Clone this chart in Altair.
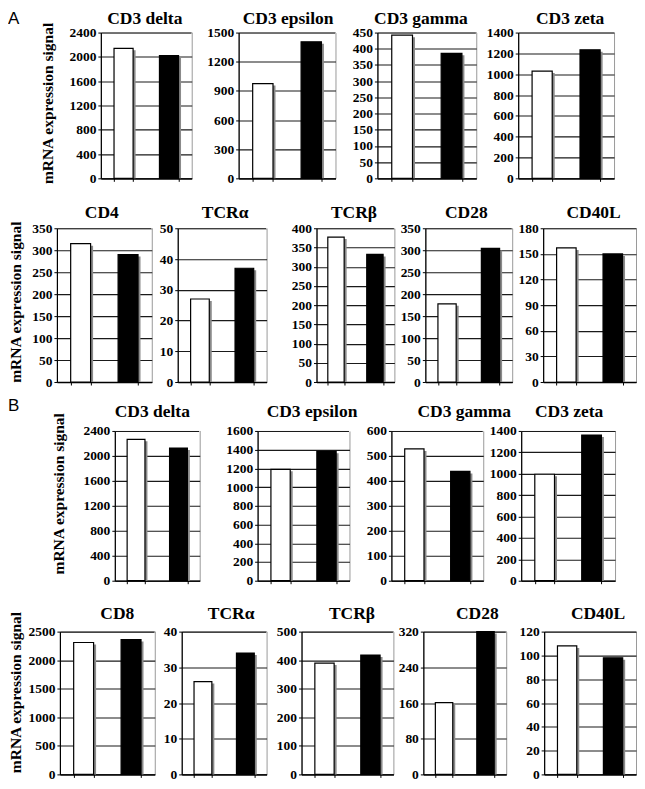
import altair as alt
import pandas as pd

# ---------------- data ----------------
ROW1_NAMES = ["CD3 delta", "CD3 epsilon", "CD3 gamma", "CD3 zeta"]
ROW1_WHITE = [2140, 975, 442, 1030]
ROW1_BLACK = [2020, 1405, 386, 1235]
ROW1_MAX = [2400, 1500, 450, 1400]
ROW1_STEP = [400, 300, 50, 200]

ROW2_NAMES = ["CD4", "TCRα", "TCRβ", "CD28", "CD40L"]
ROW2_WHITE = [315, 27, 377, 178, 157]
ROW2_BLACK = [290, 37, 332, 304, 150]
ROW2_MAX = [350, 50, 400, 350, 180]
ROW2_STEP = [50, 10, 50, 50, 30]

ROW3_NAMES = ["CD3 delta", "CD3 epsilon", "CD3 gamma", "CD3 zeta"]
ROW3_WHITE = [2265, 1190, 528, 995]
ROW3_BLACK = [2125, 1382, 438, 1362]
ROW3_MAX = [2400, 1600, 600, 1400]
ROW3_STEP = [400, 200, 100, 200]

ROW4_NAMES = ["CD8", "TCRα", "TCRβ", "CD28", "CD40L"]
ROW4_WHITE = [2310, 26, 390, 161, 108]
ROW4_BLACK = [2360, 34, 418, 320, 98]
ROW4_MAX = [2500, 40, 500, 320, 120]
ROW4_STEP = [500, 10, 100, 80, 20]

GROUPS = ["white", "black"]
Y_TITLE = "mRNA expression signal"
PANEL_LETTERS = {0: "A", 2: "B"}

# ---------------- layout (pixels) ----------------
ROW_PLOT_LEFT = [[101, 239, 378, 519], [57, 178, 317, 426, 544],
                 [115, 258, 392, 522], [60, 182, 302, 424, 545]]
ROW_PLOT_RIGHT = [[192, 336, 477, 615], [152, 267, 395, 513, 637],
                  [200, 350, 484, 616], [155, 267, 394, 507, 637]]
ROW_H = [146, 154, 150, 143]
ROW_T = [23, 24, 34, 27]      # row extent above plot top
ROW_B = [17, 6, 15, 6]        # row extent below plot bottom
ROW_SPACING = 7
TITLE_DY = [-9, -10, -14, -13]
TITLE_DX = [[-1.5, 1, -6, 4], [-2.5, 3, -1.5, -2.5, 4],
            [-5, 8.5, 27, 1], [10, 7, 4.5, 12.5, 8]]
YTITLE_X_PAGE = [53, 21, 64, 21]
YTITLE_Y_REL = [71, 74, 63, 61]
LETTER_DY = {0: -9, 2: -20}
PAGE_LEFT = 8

SERIF = "Liberation Serif"

ROWS = [
    (ROW1_NAMES, ROW1_WHITE, ROW1_BLACK, ROW1_MAX, ROW1_STEP),
    (ROW2_NAMES, ROW2_WHITE, ROW2_BLACK, ROW2_MAX, ROW2_STEP),
    (ROW3_NAMES, ROW3_WHITE, ROW3_BLACK, ROW3_MAX, ROW3_STEP),
    (ROW4_NAMES, ROW4_WHITE, ROW4_BLACK, ROW4_MAX, ROW4_STEP),
]

ONE = pd.DataFrame({"k": [0]})


def panel(r, i, name, wv, bv, ymax, step):
    W = ROW_PLOT_RIGHT[r][i] - ROW_PLOT_LEFT[r][i]
    H = ROW_H[r]
    df = pd.DataFrame({"group": GROUPS, "value": [wv, bv]})
    ticks = list(range(0, ymax + 1, step))
    x = alt.X("group:N", sort=GROUPS,
              scale=alt.Scale(paddingInner=0.58, paddingOuter=0.29),
              axis=alt.Axis(title=None, labels=False, ticks=True, tickBand="extent",
                            tickSize=3, domainColor="black", domainWidth=1.3,
                            tickColor="black", grid=False))
    y = alt.Y("value:Q",
              scale=alt.Scale(domain=[0, ymax], nice=False, zero=True),
              axis=alt.Axis(title=None, values=ticks, format="d", grid=True,
                            gridColor="#1a1a1a", gridWidth=1.1, tickSize=3,
                            tickColor="black", domainColor="black", domainWidth=1.2,
                            labelPadding=2, labelFont=SERIF, labelFontSize=13.5,
                            labelFontWeight="bold", labelColor="black"))
    base = alt.Chart(df).encode(x=x, y=y)
    shadow = base.mark_bar(color="#8a8a8a", xOffset=2.5, yOffset=2, clip=True)
    bars = base.mark_bar(stroke="black", strokeWidth=1.2).encode(
        fill=alt.Fill("group:N", scale=alt.Scale(domain=GROUPS, range=["white", "black"]),
                      legend=None))
    title = alt.Chart(pd.DataFrame({"label": [name]})).mark_text(
        font=SERIF, fontSize=17.5, fontWeight="bold", align="center",
        baseline="alphabetic", color="black").encode(
        x=alt.value(W / 2 + TITLE_DX[r][i]), y=alt.value(TITLE_DY[r]), text="label:N")
    return alt.layer(shadow, bars, title).properties(
        width=W, height=H, view=alt.ViewBackground(stroke="#9a9a9a", strokeWidth=1))


def lead(r):
    """Leading cell of a row: holds the row letter, the y title and the row extent marker."""
    W = ROW_PLOT_LEFT[r][0] - PAGE_LEFT
    H = ROW_H[r]
    marker = alt.Chart(ONE).mark_rule(stroke="white", strokeWidth=1).encode(
        x=alt.value(0.5), y=alt.value(-ROW_T[r]), y2=alt.value(H + ROW_B[r]))
    ytitle = alt.Chart(pd.DataFrame({"label": [Y_TITLE]})).mark_text(
        font=SERIF, fontSize=15.5, fontWeight="bold", angle=270, align="center",
        baseline="alphabetic", color="black").encode(
        x=alt.value(YTITLE_X_PAGE[r] - PAGE_LEFT), y=alt.value(YTITLE_Y_REL[r]),
        text="label:N")
    layers = [marker, ytitle]
    if r in PANEL_LETTERS:
        layers.append(alt.Chart(pd.DataFrame({"label": [PANEL_LETTERS[r]]})).mark_text(
            font="Liberation Sans", fontSize=17, align="left", baseline="alphabetic",
            color="black").encode(x=alt.value(0), y=alt.value(LETTER_DY[r]),
                                   text="label:N"))
    return alt.layer(*layers).properties(
        width=W, height=H, view=alt.ViewBackground(strokeOpacity=0))


def spacer(w, h):
    return alt.Chart(ONE).mark_rule(stroke="white", strokeWidth=1).encode(
        x=alt.value(0), y=alt.value(0), y2=alt.value(1)).properties(
        width=w, height=h, view=alt.ViewBackground(strokeOpacity=0))


row_charts = []
for r, (names, wvals, bvals, maxes, steps) in enumerate(ROWS):
    items = [lead(r)]
    for i in range(len(names)):
        if i > 0:
            items.append(spacer(ROW_PLOT_LEFT[r][i] - ROW_PLOT_RIGHT[r][i - 1], ROW_H[r]))
        items.append(panel(r, i, names[i], wvals[i], bvals[i], maxes[i], steps[i]))
    row_charts.append(alt.hconcat(*items, spacing=0, bounds="flush"))

chart = alt.vconcat(*row_charts, spacing=ROW_SPACING).properties(
    padding=0, background="white"
).configure_view(stroke="transparent").configure_axis(
    labelFont=SERIF, labelFontSize=13.5, labelFontWeight="bold", labelColor="black"
)

chart.save("out.html", embed_options={"renderer": "svg", "actions": False})
